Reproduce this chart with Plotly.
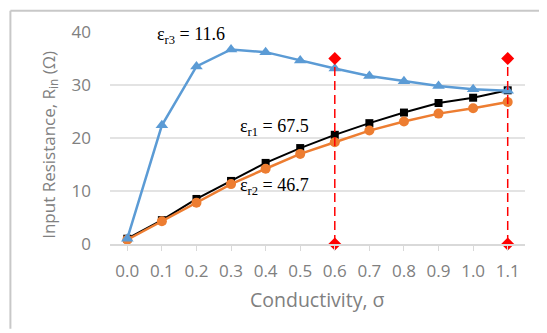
import plotly.graph_objects as go

sigma = ["0.0", "0.1", "0.2", "0.3", "0.4", "0.5", "0.6", "0.7", "0.8", "0.9", "1.0", "1.1"]
rin_er1 = [1.0, 4.5, 8.5, 11.9, 15.3, 18.1, 20.6, 22.8, 24.8, 26.6, 27.6, 29.0]
rin_er2 = [0.8, 4.3, 7.8, 11.3, 14.2, 17.0, 19.2, 21.4, 23.1, 24.6, 25.6, 26.8]
rin_er3 = [1.0, 22.4, 33.5, 36.7, 36.2, 34.6, 33.1, 31.7, 30.7, 29.8, 29.2, 28.9]
marker_x = ["0.6", "1.1"]
marker_top = 35
marker_bottom = 0

grey = "#808080"
fig = go.Figure()
fig.add_trace(go.Scatter(x=sigma, y=rin_er1, mode="lines+markers",
                         line=dict(color="#000000", width=2),
                         marker=dict(symbol="square", size=8, color="#000000")))
fig.add_trace(go.Scatter(x=sigma, y=rin_er2, mode="lines+markers",
                         line=dict(color="#ed7d31", width=2.5),
                         marker=dict(symbol="circle", size=10, color="#ed7d31")))
fig.add_trace(go.Scatter(x=sigma, y=rin_er3, mode="lines+markers",
                         line=dict(color="#5b9bd5", width=2.5),
                         marker=dict(symbol="triangle-up", size=11, color="#5b9bd5")))
for xv in marker_x:
    fig.add_trace(go.Scatter(x=[xv, xv], y=[marker_bottom, marker_top], mode="lines+markers",
                             cliponaxis=False,
                             line=dict(color="#ff0000", width=1.5, dash="9px,5px"),
                             marker=dict(symbol="diamond", size=10, color="#ff0000")))

serif = dict(family="Liberation Serif, Times New Roman, serif", size=18, color="#000000")
fig.add_annotation(x=1.85, y=39.4, text="ε<sub>r3</sub> = 11.6", showarrow=False, font=serif)
fig.add_annotation(x=4.25, y=22.0, text="ε<sub>r1</sub> = 67.5", showarrow=False, font=serif)
fig.add_annotation(x=4.25, y=10.9, text="ε<sub>r2</sub> = 46.7", showarrow=False, font=serif)

sans = "Open Sans, Liberation Sans, sans-serif"
fig.add_annotation(xref="paper", yref="paper", x=0.501, y=-0.264, text="Conductivity, σ",
                   showarrow=False, font=dict(family=sans, size=19.5, color=grey),
                   xanchor="center", yanchor="middle")
fig.add_annotation(xref="paper", yref="paper", x=-0.145, y=0.467,
                   text="Input Resistance, R<sub>in</sub> (Ω)", textangle=-90,
                   showarrow=False, font=dict(family=sans, size=17, color=grey),
                   xanchor="center", yanchor="middle")

# outer chart-area frame (top and left edges; the others fall outside the picture)
frame = dict(color="#c8c8c8", width=2)
fig.add_shape(type="line", xref="paper", yref="paper", x0=-0.2400, x1=1.06, y0=1.10, y1=1.10,
              line=frame, layer="above")
fig.add_shape(type="line", xref="paper", yref="paper", x0=-0.2400, x1=-0.2400, y0=-0.40, y1=1.10,
              line=frame, layer="above")

fig.update_layout(
    width=547, height=333,
    margin=dict(l=102, r=30, t=24, b=97),
    paper_bgcolor="white", plot_bgcolor="white",
    showlegend=False,
    font=dict(family=sans, size=17, color=grey),
)
fig.update_xaxes(type="category", range=[-0.5, 11.5], showgrid=False,
                 showline=True, linecolor="#d9d9d9", linewidth=1.5,
                 ticks="outside", ticklen=5, tickcolor="#d9d9d9", ticklabelstandoff=6,
                 tickfont=dict(family=sans, size=17, color=grey), zeroline=False)
fig.update_yaxes(range=[0, 40], dtick=10, showgrid=True, gridcolor="#e3e3e3", gridwidth=1.5,
                 showline=False, zeroline=False, ticks="", ticklabelstandoff=18,
                 tickfont=dict(family=sans, size=17, color=grey))

fig.write_html("out.html")
